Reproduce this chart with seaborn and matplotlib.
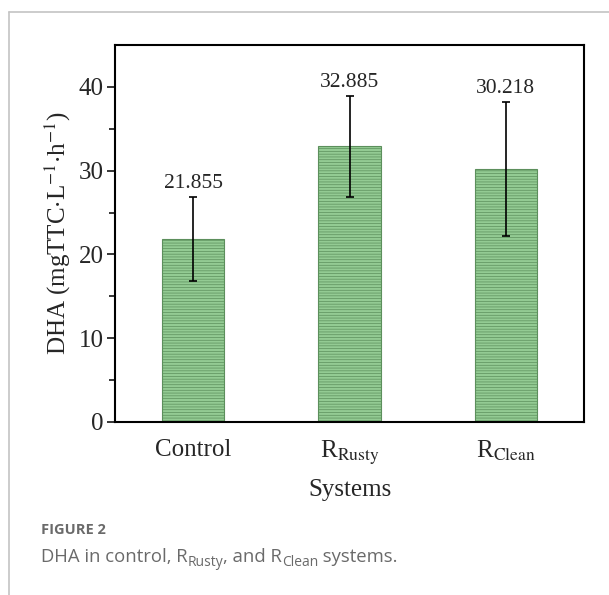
import matplotlib
matplotlib.use("Agg")
import matplotlib.pyplot as plt
from matplotlib.lines import Line2D
import seaborn as sns
import pandas as pd

# Dehydrogenase activity per system
systems = ["Control", r"R$_{\mathrm{Rusty}}$", r"R$_{\mathrm{Clean}}$"]
dha_mean = [21.855, 32.885, 30.218]
dha_err = [5.0, 6.0, 8.0]

sns.set_theme(style="ticks")
plt.rcParams["font.family"] = ["Liberation Serif", "DejaVu Serif"]
plt.rcParams["mathtext.fontset"] = "stix"
plt.rcParams["hatch.color"] = "#7aba7a"
plt.rcParams["hatch.linewidth"] = 0.5

df = pd.DataFrame({"system": systems, "dha": dha_mean})

fig = plt.figure(figsize=(6.09, 5.95), dpi=100)
ax = fig.add_axes([115 / 609, 1 - 422 / 595, 469 / 609, 377 / 595])

sns.barplot(data=df, x="system", y="dha", ax=ax, width=0.4,
            color="#93cb93", saturation=1, errorbar=None,
            edgecolor="#5c8f5c", linewidth=0.8)
for bar in ax.patches:
    bar.set_hatch("------")

xpos = list(range(len(systems)))
ax.errorbar(xpos, dha_mean, yerr=dha_err, fmt="none", ecolor="black",
            elinewidth=1.2, capsize=3, capthick=1.2)

for x, m, e in zip(xpos, dha_mean, dha_err):
    ax.annotate(f"{m:.3f}", (x, m + e), xytext=(0, 3), textcoords="offset points",
                ha="center", va="bottom", fontsize=15.5)

ax.set_xlim(-0.5, 2.5)
ax.set_ylim(0, 45)
ax.set_yticks([0, 10, 20, 30, 40])
ax.set_yticks([5, 15, 25, 35], minor=True)
ax.tick_params(axis="y", which="major", length=6, width=1.3, labelsize=18, pad=2)
ax.tick_params(axis="y", which="minor", length=4, width=1.3)
ax.tick_params(axis="x", length=0, labelsize=18, pad=12)
for s in ax.spines.values():
    s.set_visible(True)
    s.set_linewidth(1.5)
    s.set_color("black")

ax.set_xlabel("Systems", fontsize=18, labelpad=9)
ax.set_ylabel(r"DHA (mgTTC$\cdot$L$^{-1}$$\cdot$h$^{-1}$)", fontsize=18, labelpad=4)

# Page frame
fig.add_artist(Line2D([9 / 609, 1], [1 - 12 / 595] * 2, transform=fig.transFigure,
                      color="#c4c4c4", lw=1.2))
fig.add_artist(Line2D([9 / 609] * 2, [0, 1 - 12 / 595], transform=fig.transFigure,
                      color="#c4c4c4", lw=1.2))

# Caption
cap_font = ["Open Sans", "DejaVu Sans"]
gray = "#6a6a6a"
fig.text(41 / 609, 1 - 530 / 595, "FIGURE 2", family=cap_font, weight="bold",
         fontsize=10.5, color=gray, va="center", ha="left")

pieces = [("DHA in control, R", False), ("Rusty", True), (", and R", False),
          ("Clean", True), (" systems.", False)]
renderer = fig.canvas.get_renderer()
x_px = 41.0
base_px = 595 - 562.0
for txt, sub in pieces:
    size = 10 if sub else 13.3
    y_px = base_px - (4 if sub else 0)
    t = fig.text(x_px / 609, y_px / 595, txt, family=cap_font, fontsize=size,
                 color=gray, va="baseline", ha="left")
    x_px += t.get_window_extent(renderer).width

fig.savefig("out.png", dpi=100)
